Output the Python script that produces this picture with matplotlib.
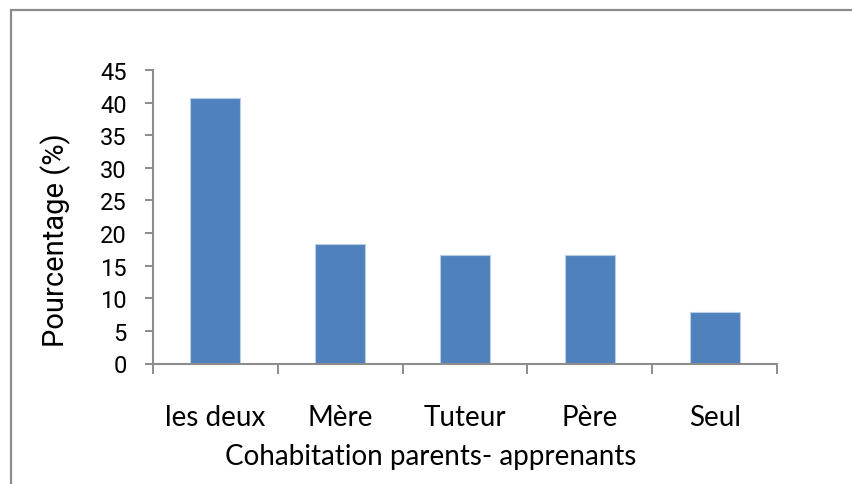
import matplotlib
matplotlib.use("Agg")
import matplotlib.pyplot as plt
from matplotlib.patches import Rectangle
from matplotlib.ticker import FixedLocator

categories = ["les deux", "Mère", "Tuteur", "Père", "Seul"]
values = [40.7, 18.3, 16.7, 16.7, 7.9]
yticks = [0, 5, 10, 15, 20, 25, 30, 35, 40, 45]

W, H = 853, 485
fig = plt.figure(figsize=(W / 100, H / 100), dpi=100)
fig.patch.set_facecolor("white")

# outer chart-area border
fig.patches.append(Rectangle((11 / W, -0.1), 1.2, 1 - 11 / H + 0.1, transform=fig.transFigure,
                             fill=False, edgecolor="#8c8c8c", linewidth=1.6, zorder=0))

ax = fig.add_axes([153 / W, 1 - 364.5 / H, (777 - 153) / W, (364.5 - 71) / H])
x = list(range(len(categories)))
ax.bar(x, values, width=0.4, color="#4F81BD", edgecolor="#B9CDE5", linewidth=0.8, zorder=2)

ax.set_xlim(-0.5, len(categories) - 0.5)
ax.set_ylim(0, 45)
ax.set_yticks(yticks)
ax.set_yticklabels([str(v) for v in yticks], fontsize=17, family=["Roboto", "DejaVu Sans"])

ax.set_xticks(x)
ax.set_xticklabels(categories, fontsize=20, family=["Lato", "DejaVu Sans"])
ax.xaxis.set_minor_locator(FixedLocator([i - 0.5 for i in range(len(categories) + 1)]))
ax.tick_params(axis="x", which="major", length=0, pad=29)
ax.tick_params(axis="x", which="minor", length=7, width=1.4, color="#8c8c8c", direction="out")
ax.tick_params(axis="y", length=6, width=1.4, color="#8c8c8c", direction="out", pad=13)

for s in ["top", "right"]:
    ax.spines[s].set_visible(False)
for s in ["left", "bottom"]:
    ax.spines[s].set_color("#8c8c8c")
    ax.spines[s].set_linewidth(1.5)

ax.set_ylabel("Pourcentage (%)", fontsize=21, family=["Roboto", "DejaVu Sans"], va="center")
ax.yaxis.set_label_coords((56 - 153) / (777 - 153), (364.5 - 240) / (364.5 - 71))
ax.set_xlabel("Cohabitation parents- apprenants", fontsize=20, family=["Lato", "DejaVu Sans"])
ax.xaxis.set_label_coords((431 - 153) / (777 - 153), -(457 - 364.5) / (364.5 - 71))
ax.xaxis.label.set_va("center")

fig.savefig("out.png", dpi=100, facecolor="white")
